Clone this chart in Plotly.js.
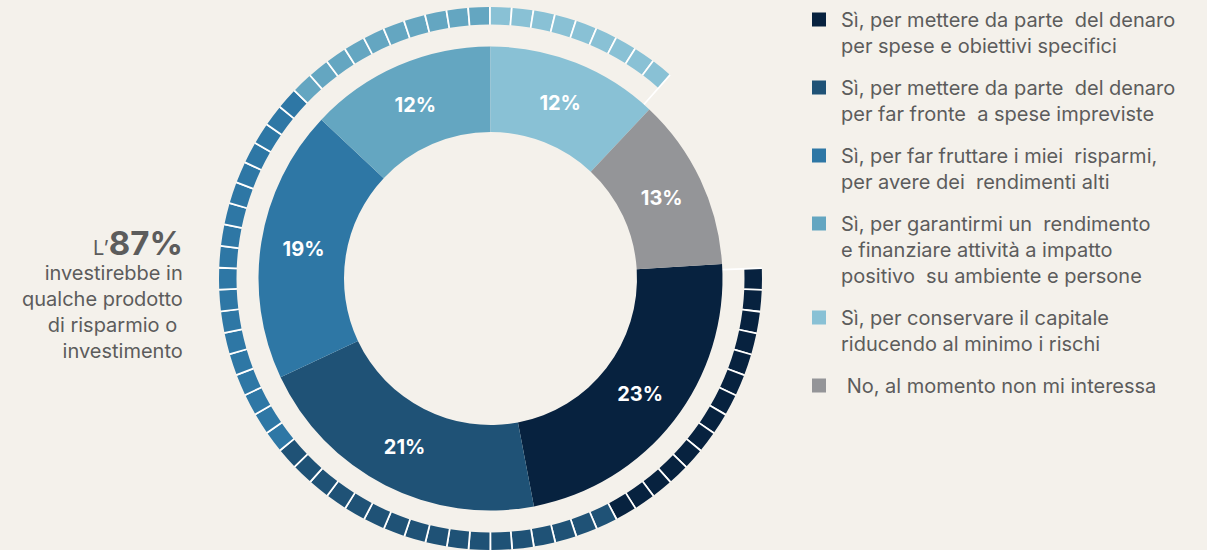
<!DOCTYPE html>
<html>
<head>
<meta charset="utf-8">
<script src="https://cdn.plot.ly/plotly-3.0.1.min.js"></script>
<style>
  html, body { margin: 0; padding: 0; background: #f4f1eb; }
  #chart { width: 1207px; height: 550px; }
</style>
</head>
<body>
<div id="chart"></div>
<script>
// ---- data ----
const categories = [
  'Sì, per mettere da parte\u00a0 del denaro<br>per spese e obiettivi specifici',
  'Sì, per mettere da parte\u00a0 del denaro<br>per far fronte\u00a0 a spese impreviste',
  'Sì, per far fruttare i miei\u00a0 risparmi,<br>per avere dei\u00a0 rendimenti alti',
  'Sì, per garantirmi un\u00a0 rendimento<br>e finanziare attività a impatto<br>positivo\u00a0 su ambiente e persone',
  'Sì, per conservare il capitale<br>riducendo al minimo i rischi',
  '\u00a0No, al momento non mi interessa'
];
const sliceShares = [23, 21, 19, 13, 12, 12];          // slice sizes as drawn
const sliceLabels = ['23%', '21%', '19%', '12%', '12%', '13%']; // printed labels
const ringSquares = [14, 17, 18, 10, 9];               // squares in the outer ring per "Sì" answer
const investShare = 87;                                // L'87%
const colors = ['#07223f', '#1f5276', '#2e77a5', '#64a6c1', '#89c1d5', '#949598'];

// ---- geometry / style ----
const W = 1207, H = 550;
const CX = 490.5, CY = 278.5;
const R_DONUT = 232, R_HOLE = 146.5;
const R_RING_OUT = 271.5, R_RING_IN = 254;
const RING_START = 88;      // degrees clockwise from 12 o'clock
const DONUT_START = 86.4;
const SEP = 0.09;           // separator width relative to a square
const BG = '#f4f1eb';
const TXT = '#5c5c5c';
const FONT = 'Inter, "Noto Sans", sans-serif';

function dom(r) {
  return { x: [(CX - r) / W, (CX + r) / W], y: [Math.max(0, (H - CY - r) / H), Math.min(1, (H - CY + r) / H)] };
}

// outer ring of squares
const ringVals = [], ringCols = [];
ringSquares.forEach((n, ci) => {
  for (let k = 0; k < n; k++) {
    if (ringVals.length) { ringVals.push(SEP); ringCols.push('#ffffff'); }
    ringVals.push(1); ringCols.push(colors[ci]);
  }
});
const ringUnits = ringVals.reduce((a, b) => a + b, 0);
const gapUnits = ringUnits * (100 - investShare) / investShare;
ringVals.push(gapUnits); ringCols.push('rgba(0,0,0,0)');
const degPerUnit = 360 / (ringUnits + gapUnits);

const traces = [];

// thin white lines that close the ring at both ends
traces.push({
  type: 'pie', values: [SEP, ringUnits, SEP, gapUnits - 2 * SEP],
  marker: { colors: ['#ffffff', 'rgba(0,0,0,0)', '#ffffff', 'rgba(0,0,0,0)'], line: { width: 0 } },
  sort: false, direction: 'clockwise', rotation: RING_START - SEP * degPerUnit,
  domain: dom(R_RING_OUT), hole: R_DONUT / R_RING_OUT,
  textinfo: 'none', hoverinfo: 'skip', showlegend: false
});

// main donut
traces.push({
  type: 'pie', labels: categories, values: sliceShares, text: sliceLabels,
  textinfo: 'text', textposition: 'inside', insidetextorientation: 'horizontal',
  insidetextfont: { color: '#ffffff', size: 20, family: FONT, weight: 700 },
  marker: { colors: colors, line: { width: 0 } },
  sort: false, direction: 'clockwise', rotation: DONUT_START,
  domain: dom(R_DONUT), hole: R_HOLE / R_DONUT,
  hoverinfo: 'label+text', showlegend: false
});

// squares ring
traces.push({
  type: 'pie', values: ringVals,
  marker: { colors: ringCols, line: { width: 0 } },
  sort: false, direction: 'clockwise', rotation: RING_START,
  domain: dom(R_RING_OUT), hole: R_RING_IN / R_RING_OUT,
  textinfo: 'none', hoverinfo: 'skip', showlegend: false
});

// legend entries
categories.forEach((c, i) => {
  traces.push({
    type: 'scatter', x: [null], y: [null], mode: 'markers', name: c,
    marker: { symbol: 'square', size: 14, color: colors[i] },
    legendgroup: 'g' + i, showlegend: true, hoverinfo: 'skip'
  });
});

const layout = {
  width: W, height: H,
  margin: { l: 0, r: 0, t: 0, b: 0 },
  paper_bgcolor: BG, plot_bgcolor: 'rgba(0,0,0,0)',
  xaxis: { visible: false }, yaxis: { visible: false },
  showlegend: true,
  legend: {
    x: 797 / W, xanchor: 'left', y: 1, yanchor: 'top',
    bgcolor: 'rgba(0,0,0,0)', borderwidth: 0,
    font: { family: FONT, size: 20, color: TXT },
    valign: 'top', tracegroupgap: 13, itemwidth: 34, maxheight: 1,
    itemclick: false, itemdoubleclick: false
  },
  annotations: [
    {
      xref: 'paper', yref: 'paper', x: 185 / W, y: 1 - 243 / H,
      xanchor: 'right', yanchor: 'middle', showarrow: false,
      text: "<span style='font-size:20px'>L’</span><b>87%</b>",
      font: { family: FONT, size: 33, color: TXT }
    },
    {
      xref: 'paper', yref: 'paper', x: 185 / W, y: 1 - 259 / H,
      xanchor: 'right', yanchor: 'top', showarrow: false, align: 'right',
      text: 'investirebbe in<br>qualche prodotto<br>di risparmio o\u00a0<br>investimento',
      font: { family: FONT, size: 20, color: TXT }
    }
  ]
};

Plotly.newPlot('chart', traces, layout, { displayModeBar: false });
</script>
</body>
</html>
